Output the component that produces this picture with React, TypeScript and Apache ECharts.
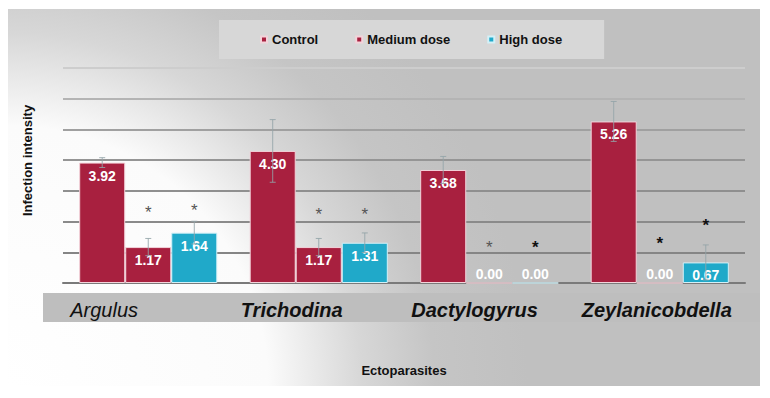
import React, { useEffect, useRef } from 'react';
import * as echarts from 'echarts';

const categories = ['Argulus', 'Trichodina', 'Dactylogyrus', 'Zeylanicobdella'];
const categoryBold = [false, true, true, true];
const seriesNames = ['Control', 'Medium dose', 'High dose'];
const controlValues = [3.92, 4.3, 3.68, 5.26];
const mediumValues = [1.17, 1.17, 0.0, 0.0];
const highValues = [1.64, 1.31, 0.0, 0.67];
const controlErrors = [0.16, 1.02, 0.44, 0.65];
const mediumErrors = [0.28, 0.28, 0, 0];
const highErrors = [0.37, 0.32, 0, 0.57];
const mediumStars = [2.44, 2.35, 1.29, 1.42];
const highStars = [2.48, 2.35, 1.29, 1.99];
const mediumStarDark = [false, false, false, true];
const highStarDark = [false, false, true, true];

const FONT = "'Liberation Sans', Arial, sans-serif";
const RED = '#a8203f';
const CYAN = '#20a9c9';
const GAP_RATIO = 0.19;

function barData(values: number[]) {
  return values.map((v) =>
    v === 0 ? { value: v, label: { position: 'insideBottom', distance: 3 } } : { value: v }
  );
}

export default function App() {
  const ref = useRef<HTMLDivElement>(null);
  useEffect(() => {
    document.body.style.margin = '0';
    const chart = echarts.init(ref.current!, undefined, { renderer: 'svg' });

    const valueSets = [controlValues, mediumValues, highValues];
    const errorSets = [controlErrors, mediumErrors, highErrors];
    const errorData: number[][] = [];
    valueSets.forEach((vals, s) => {
      vals.forEach((v, c) => {
        if (errorSets[s][c] > 0) errorData.push([c, s, v, errorSets[s][c]]);
      });
    });
    const starData: number[][] = [];
    mediumStars.forEach((v, c) => starData.push([c, 1, v, mediumStarDark[c] ? 1 : 0]));
    highStars.forEach((v, c) => starData.push([c, 2, v, highStarDark[c] ? 1 : 0]));

    const barX = (api: any, cat: number, s: number, v: number) => {
      const band = api.size([1, 0])[0];
      const group = band * (1 - GAP_RATIO);
      const bw = group / 3;
      const p = api.coord([cat, v]);
      return [p[0] - group / 2 + bw * (s + 0.5), p[1]];
    };

    const labelStyle = {
      show: true,
      position: 'insideTop',
      distance: 6,
      color: '#ffffff',
      fontWeight: 'bold',
      fontSize: 14,
      fontFamily: FONT,
      formatter: (p: any) => Number(p.value).toFixed(2),
    };

    const option: any = {
      animation: false,
      graphic: [
        {
          type: 'rect',
          z: -10,
          silent: true,
          shape: { x: 8, y: 9, width: 752, height: 377 },
          style: {
            fill: new echarts.graphic.RadialGradient(
              8,
              386,
              520,
              [
                { offset: 0, color: '#ffffff' },
                { offset: 0.5, color: '#fbfbfb' },
                { offset: 0.68, color: '#d7d7d7' },
                { offset: 0.82, color: '#c5c5c5' },
                { offset: 1, color: '#c0c0c0' },
              ],
              true
            ),
          },
        },
        {
          type: 'rect',
          z: -9,
          silent: true,
          shape: { x: 43, y: 293, width: 717, height: 29 },
          style: { fill: '#bebebe' },
        },
      ],
      legend: {
        data: seriesNames,
        left: 219,
        top: 20,
        padding: [13, 42, 13, 41],
        backgroundColor: '#d7d7d7',
        itemWidth: 6,
        itemHeight: 6,
        itemGap: 37,
        icon: 'rect',
        textStyle: { fontWeight: 'bold', fontSize: 13, color: '#111', fontFamily: FONT },
      },
      grid: { left: 63, right: 25, top: 68, bottom: 115, containLabel: false },
      xAxis: {
        type: 'category',
        data: categories,
        name: 'Ectoparasites',
        nameLocation: 'middle',
        nameGap: 81,
        nameTextStyle: { fontWeight: 'bold', fontSize: 13, color: '#111', fontFamily: FONT },
        axisLine: { show: true, lineStyle: { color: '#7a7a7a', width: 2 } },
        axisTick: { show: false },
        axisLabel: {
          margin: 17,
          formatter: (v: string) => {
            const i = categories.indexOf(v);
            return `{${categoryBold[i] ? 'b' : 'n'}|${v}}`;
          },
          rich: {
            n: { width: 156, align: 'left', fontSize: 20, fontStyle: 'italic', fontWeight: 'normal', color: '#111', fontFamily: FONT },
            b: { width: 156, align: 'left', fontSize: 20, fontStyle: 'italic', fontWeight: 'bold', color: '#111', fontFamily: FONT },
          },
        },
      },
      yAxis: {
        type: 'value',
        min: 0,
        max: 7,
        interval: 1,
        name: 'Infection intensity',
        nameLocation: 'middle',
        nameGap: 29,
        nameTextStyle: { fontWeight: 'bold', fontSize: 13, color: '#111', fontFamily: FONT, padding: [0, 0, 0, 30] },
        axisLine: { show: false },
        axisTick: { show: false },
        axisLabel: { show: false },
        splitLine: {
          show: true,
          lineStyle: {
            width: 2,
            color: ['#7a7a7a', '#858585', '#8a8a8a', '#8f8f8f', '#959595', '#a0a0a0', '#b4b4b4', '#cdcdcd'],
          },
        },
      },
      series: [
        {
          name: seriesNames[0],
          type: 'bar',
          barGap: '0%',
          barCategoryGap: '19%',
          itemStyle: { color: RED, borderColor: '#f3d3da', borderWidth: 1 },
          label: labelStyle,
          data: barData(controlValues),
        },
        {
          name: seriesNames[1],
          type: 'bar',
          barGap: '0%',
          barCategoryGap: '19%',
          itemStyle: { color: RED, borderColor: '#f3d3da', borderWidth: 1 },
          label: labelStyle,
          data: barData(mediumValues),
        },
        {
          name: seriesNames[2],
          type: 'bar',
          barGap: '0%',
          barCategoryGap: '19%',
          itemStyle: { color: CYAN, borderColor: '#d3f1f8', borderWidth: 1 },
          label: labelStyle,
          data: barData(highValues),
        },
        {
          type: 'custom',
          z: 3,
          silent: true,
          encode: { x: 0, y: 2 },
          data: errorData,
          renderItem: (params: any, api: any) => {
            const cat = api.value(0);
            const s = api.value(1);
            const v = api.value(2);
            const e = api.value(3);
            const [x] = barX(api, cat, s, v);
            const yTop = api.coord([cat, v + e])[1];
            const yBot = api.coord([cat, Math.max(v - e, 0)])[1];
            const st = { stroke: '#93a3a8', lineWidth: 1, opacity: 0.85 };
            return {
              type: 'group',
              children: [
                { type: 'line', shape: { x1: x, y1: yTop, x2: x, y2: yBot }, style: st },
                { type: 'line', shape: { x1: x - 3, y1: yTop, x2: x + 3, y2: yTop }, style: st },
                { type: 'line', shape: { x1: x - 3, y1: yBot, x2: x + 3, y2: yBot }, style: st },
              ],
            };
          },
        },
        {
          type: 'custom',
          z: 6,
          silent: true,
          encode: { x: 0, y: 2 },
          data: starData,
          renderItem: (params: any, api: any) => {
            const cat = api.value(0);
            const s = api.value(1);
            const v = api.value(2);
            const dark = api.value(3) === 1;
            const [x, y] = barX(api, cat, s, v);
            return {
              type: 'text',
              x,
              y: y + 4,
              style: {
                text: '*',
                fill: dark ? '#111111' : '#555555',
                fontSize: 17,
                fontWeight: dark ? 'bold' : 'normal',
                fontFamily: FONT,
                align: 'center',
                verticalAlign: 'middle',
              },
            };
          },
        },
      ],
    };
    chart.setOption(option);
    return () => chart.dispose();
  }, []);
  return <div ref={ref} style={{ width: 770, height: 398 }} />;
}
